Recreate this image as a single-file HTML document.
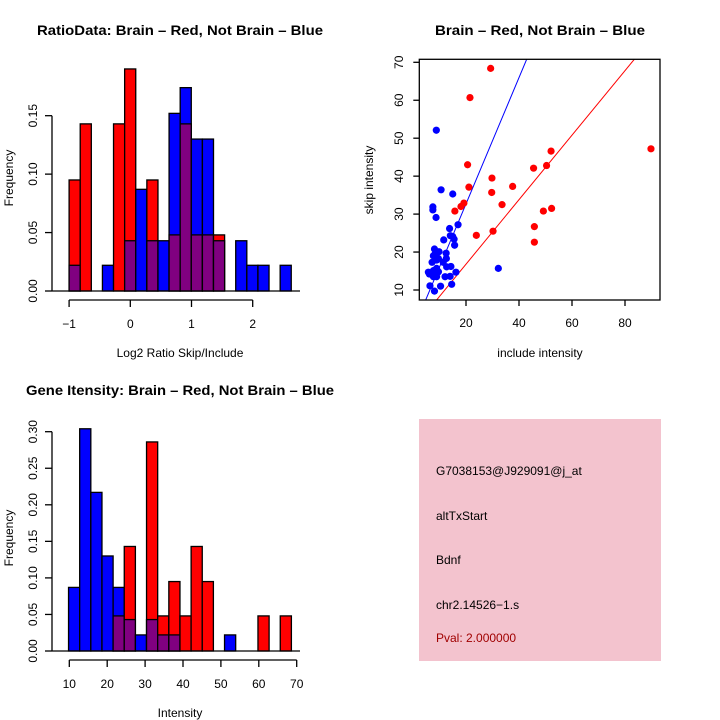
<!DOCTYPE html>
<html><head><meta charset="utf-8"><style>
body{margin:0;background:#fff}
svg{display:block;font-family:"Liberation Sans",sans-serif}
</style></head><body>
<svg id="chart" width="720" height="720" viewBox="0 0 720 720">
<rect width="720" height="720" fill="#fff"/>
</svg>
<script>
// ---- data: ratio histogram ----
const ratioStart = -1.0;
const ratioWidth = 0.1815;
const ratioRed = [0.095,0.143,0,0,0.143,0.19,0,0.095,0,0.048,0.143,0.048,0.048,0.048,0,0,0,0,0,0];
const ratioBlue = [0.022,0,0,0.022,0,0.043,0.087,0.043,0.043,0.152,0.174,0.13,0.13,0.043,0,0.043,0.022,0.022,0,0.022];
const ratioXTicks = [-1,0,1,2];
const ratioYTicks = [0,0.05,0.10,0.15];
const ratioYLabels = ["0.00","0.05","0.10","0.15"];
// ---- data: intensity histogram ----
const intStart = 9.8;
const intWidth = 2.94;
const intRed = [0,0,0,0,0.048,0.143,0,0.286,0.048,0.095,0.048,0.143,0.095,0,0,0,0,0.048,0,0.048];
const intBlue = [0.087,0.304,0.217,0.13,0.087,0.043,0.022,0.043,0.022,0.022,0,0,0,0,0.022,0,0,0,0,0];
const intXTicks = [10,20,30,40,50,60,70];
const intYTicks = [0,0.05,0.10,0.15,0.20,0.25,0.30];
const intYLabels = ["0.00","0.05","0.10","0.15","0.20","0.25","0.30"];
// ---- data: scatter ----
const redX = [29.3,21.5,20.6,21.1,19.2,18.1,15.8,23.9,29.8,29.7,30.2,33.6,37.6,45.5,50.4,52.1,49.2,52.3,45.8,45.8,89.8];
const redY = [68.4,60.7,43.0,37.1,32.9,32.0,30.8,24.4,39.5,35.7,25.5,32.5,37.3,42.1,42.8,46.6,30.8,31.5,26.7,22.6,47.2];
const blueX = [8.8,10.6,15.0,7.5,7.5,8.7,17.0,13.8,14.1,15.0,15.5,11.6,15.7,8.1,9.8,12.5,8.3,7.7,9.6,12.6,7.2,8.9,11.4,12.7,14.3,8.9,16.2,5.8,7.7,9.6,6.2,7.7,8.9,12.1,14.0,7.0,6.4,10.4,14.6,8.1,32.2,8.7];
const blueY = [52.1,36.4,35.3,31.9,31.1,29.1,27.2,26.2,24.3,24.1,23.4,23.2,21.8,20.8,20.1,19.7,19.5,19.0,18.3,18.3,17.3,17.9,17.3,16.1,16.2,15.7,14.7,14.7,15.1,14.8,14.2,13.5,13.5,13.5,13.6,14.2,11.1,11.0,11.5,9.7,15.7,14.4];
const blueSlope = 1.664, blueIntercept = -0.59;
const redSlope = 0.85, redIntercept = -0.2;
const scXTicks = [20,40,60,80];
const scYTicks = [10,20,30,40,50,60,70];

const svg = document.getElementById('chart');
const NS = 'http://www.w3.org/2000/svg';
function mk(tag, attrs, parent){
  const e = document.createElementNS(NS, tag);
  for (const k in attrs) e.setAttribute(k, attrs[k]);
  (parent||svg).appendChild(e);
  return e;
}
function txt(s, x, y, size, opts, parent){
  const t = mk('text', Object.assign({x:x, y:y, 'font-size':size, 'text-anchor':'middle', fill:'#000'}, opts||{}), parent);
  t.textContent = s;
  return t;
}

function histogram(g, cfg){
  const sx = v => cfg.x0 + (v - cfg.xv0) * cfg.kx;
  const sy = v => cfg.y0 - v * cfg.ky;
  const n = cfg.red.length;
  for (let i = 0; i < n; i++){
    const l = sx(cfg.start + i*cfg.width), r = sx(cfg.start + (i+1)*cfg.width);
    const rv = cfg.red[i], bv = cfg.blue[i];
    const top = Math.max(rv, bv), mn = Math.min(rv, bv);
    if (top <= 0) continue;
    const col = rv >= bv ? '#ff0000' : '#0000ff';
    const b = mk('rect', {x:l, y:sy(top), width:r-l, height:sy(0)-sy(top), fill:col, stroke:'#000', 'stroke-width':1.3}, g);
    
    
    if (mn > 0){
      const p = mk('rect', {x:l, y:sy(mn), width:r-l, height:sy(0)-sy(mn), fill:'#800080', stroke:'#000', 'stroke-width':1.3}, g);
      
      
    }
  }
  // baseline
  mk('line', {x1:52, x2:300, y1:cfg.y0, y2:cfg.y0, stroke:'#000', 'stroke-width':1.3}, g);
  // x axis
  const xa = mk('g', {}, g);
  
  
  const xt0 = sx(cfg.xTicks[0]), xt1 = sx(cfg.xTicks[cfg.xTicks.length-1]);
  mk('line', {x1:xt0, x2:xt1, y1:cfg.axY, y2:cfg.axY, stroke:'#000', 'stroke-width':1.3}, xa);
  cfg.xTicks.forEach(v => {
    mk('line', {x1:sx(v), x2:sx(v), y1:cfg.axY, y2:cfg.axY+7, stroke:'#000', 'stroke-width':1.3}, xa);
    txt(v < 0 ? '\u2212' + Math.abs(v) : String(v), sx(v), cfg.axY+28, 12, {}, xa);
  });
  // y axis
  const ya = mk('g', {}, g);
  
  
  const yl = cfg.yTicks;
  mk('line', {x1:cfg.yAxX, x2:cfg.yAxX, y1:sy(yl[0]), y2:sy(yl[yl.length-1]), stroke:'#000', 'stroke-width':1.3}, ya);
  yl.forEach((v, i) => {
    mk('line', {x1:cfg.yAxX-7, x2:cfg.yAxX, y1:sy(v), y2:sy(v), stroke:'#000', 'stroke-width':1.3}, ya);
    txt(cfg.yLabels[i], 0, 0, 12, {transform:'translate(' + (cfg.yAxX-15) + ',' + sy(v) + ') rotate(-90)'}, ya);
  });
}

// ---- panel 1 ----
const g1 = mk('g', {});


histogram(g1, {start:ratioStart, width:ratioWidth, red:ratioRed, blue:ratioBlue, x0:130.3, xv0:0, kx:61.2, y0:291, ky:1168.7, axY:300, yAxX:52, xTicks:ratioXTicks, yTicks:ratioYTicks, yLabels:ratioYLabels});
const t1 = txt('RatioData: Brain \u2013 Red, Not Brain \u2013 Blue', 180, 35, 14, {'font-weight':'bold', textLength:286, lengthAdjust:'spacingAndGlyphs'});
 
const xl1 = txt('Log2 Ratio Skip/Include', 180, 357, 12);
 
const yl1 = txt('Frequency', 0, 0, 12, {transform:'translate(13,178) rotate(-90)'});
 

// ---- panel 3 ----
const g3 = mk('g', {});


histogram(g3, {start:intStart, width:intWidth, red:intRed, blue:intBlue, x0:69.3, xv0:10, kx:3.79, y0:651, ky:731, axY:660, yAxX:52, xTicks:intXTicks, yTicks:intYTicks, yLabels:intYLabels});
const t3 = txt('Gene Itensity: Brain \u2013 Red, Not Brain \u2013 Blue', 180, 395, 14, {'font-weight':'bold', textLength:308, lengthAdjust:'spacingAndGlyphs'});
 
const xl3 = txt('Intensity', 180, 717, 12);
 
const yl3 = txt('Frequency', 0, 0, 12, {transform:'translate(13,538) rotate(-90)'});
 

// ---- panel 2: scatter ----
const g2 = mk('g', {});


const L = 419.3, R = 660, T = 59.3, B = 300;
const X = v => 466 + (v - 20) * 2.65;
const Y = v => 290 - (v - 10) * 3.795;
const Xinv = px => 20 + (px - 466) / 2.65;
const cp = mk('clipPath', {id:'scclip'}, g2);
mk('rect', {x:L, y:T, width:R-L, height:B-T}, cp);
function fitLine(slope, icpt, col, name){
  const xa = Xinv(L), xb = Xinv(R);
  const ln = mk('line', {x1:X(xa), y1:Y(slope*xa+icpt), x2:X(xb), y2:Y(slope*xb+icpt), stroke:col, 'stroke-width':1, 'clip-path':'url(#scclip)'}, g2);
  
  
}
fitLine(blueSlope, blueIntercept, '#0000ff', 'blue-fit-line');
fitLine(redSlope, redIntercept, '#ff0000', 'red-fit-line');
blueX.forEach((v, i) => {
  const c = mk('circle', {cx:X(v), cy:Y(blueY[i]), r:3.6, fill:'#0000ff'}, g2);
  
  
});
redX.forEach((v, i) => {
  const c = mk('circle', {cx:X(v), cy:Y(redY[i]), r:3.6, fill:'#ff0000'}, g2);
  
  
});
mk('rect', {x:L, y:T, width:R-L, height:B-T, fill:'none', stroke:'#000', 'stroke-width':1.3}, g2);
scXTicks.forEach(v => {
  mk('line', {x1:X(v), x2:X(v), y1:B, y2:B+6, stroke:'#000', 'stroke-width':1.3}, g2);
  const t = txt(String(v), X(v), 327, 12, {}, g2);
   
});
scYTicks.forEach(v => {
  mk('line', {x1:L-6, x2:L, y1:Y(v), y2:Y(v), stroke:'#000', 'stroke-width':1.3}, g2);
  const t = txt(String(v), 0, 0, 12, {transform:'translate(403,' + Y(v) + ') rotate(-90)'}, g2);
   
});
const t2 = txt('Brain \u2013 Red, Not Brain \u2013 Blue', 540, 35, 14, {'font-weight':'bold', textLength:210, lengthAdjust:'spacingAndGlyphs'});
 
const xl2 = txt('include intensity', 540, 357, 12);
 
const yl2 = txt('skip intensity', 0, 0, 12, {transform:'translate(373,180) rotate(-90)'});
 

// ---- panel 4: info box ----
const g4 = mk('g', {});


mk('rect', {x:419, y:419, width:242, height:242, fill:'#f3c3ce'}, g4);
const info = [['G7038153@J929091@j_at',475,'#000'],['altTxStart',520,'#000'],['Bdnf',564,'#000'],['chr2.14526\u22121.s',609,'#000'],['Pval: 2.000000',642,'#a00000']];
info.forEach(([s, y, c]) => {
  const t = txt(s, 436, y, 12, {'text-anchor':'start', fill:c}, g4);
  
  
});
</script>
</body></html>
